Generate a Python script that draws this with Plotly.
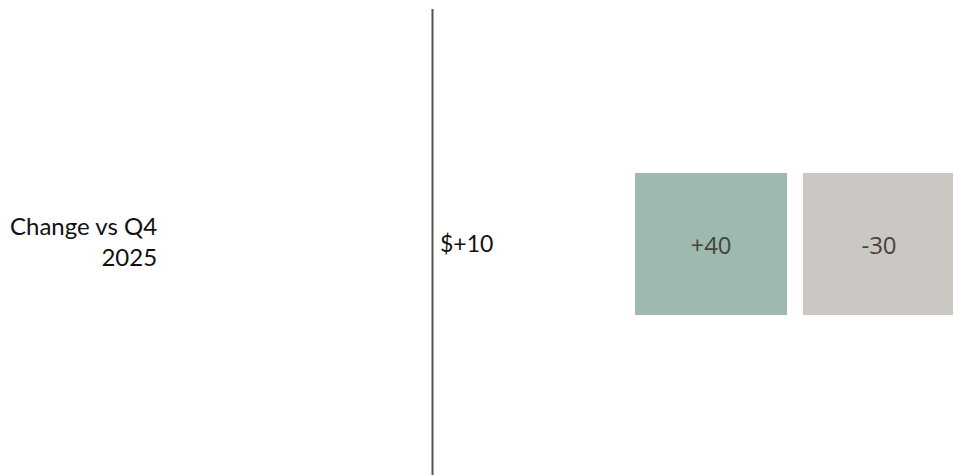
import plotly.graph_objects as go

# ---- data ----
row_labels = ["Change vs Q4<br>2025"]
row_totals = ["$+10"]
segment_names = ["Increase", "Decrease"]
segment_values = [40, -30]
segment_labels = ["+40", "-30"]
segment_colors = ["#9eb9ad", "#cbc8c3"]

W, H = 953, 475
BOX_W = 152          # px width of a box
GAP = 16             # px gap between boxes
BOX_LEFT = 635       # px
BOX_TOP, BOX_BOTTOM = 173, 315
CENTER_Y = 243

gap_u = GAP / BOX_W
xs = [i * (1 + gap_u) + 0.5 for i in range(len(segment_values))]

fig = go.Figure()
for i, (name, val, lab, col) in enumerate(zip(segment_names, segment_values, segment_labels, segment_colors)):
    fig.add_trace(go.Bar(
        x=[xs[i]], y=[1], width=[1], base=[0],
        name=name, marker=dict(color=col, line=dict(width=0)),
        text=[lab], textposition="inside", insidetextanchor="middle",
        textfont=dict(family="Open Sans", size=24, color="#444444"),
        hoverinfo="skip", showlegend=False,
        customdata=[val],
    ))

fig.update_layout(
    width=W, height=H,
    margin=dict(l=0, r=0, t=0, b=0),
    paper_bgcolor="white", plot_bgcolor="white",
    xaxis=dict(domain=[BOX_LEFT / W, 1], range=[0, (W - BOX_LEFT) / BOX_W],
               visible=False, fixedrange=True),
    yaxis=dict(domain=[(H - BOX_BOTTOM) / H, (H - BOX_TOP) / H], range=[0, 1],
               visible=False, fixedrange=True),
    bargap=0,
)

fig.add_shape(type="line", xref="paper", yref="paper",
              x0=432.5 / W, x1=432.5 / W, y0=0, y1=1 - 9 / H,
              line=dict(color="#555555", width=2))

fig.add_annotation(xref="paper", yref="paper", x=159 / W, y=1 - (CENTER_Y - 2) / H,
                   xanchor="right", yanchor="middle", align="right",
                   text=row_labels[0], showarrow=False,
                   font=dict(family="Lato", size=24, color="#111111"))
fig.add_annotation(xref="paper", yref="paper", x=438 / W, y=1 - CENTER_Y / H,
                   xanchor="left", yanchor="middle", align="left",
                   text=row_totals[0], showarrow=False,
                   font=dict(family="Lato", size=23, color="#111111"))

fig.write_html("out.html", config={"displayModeBar": False},
               post_script="document.body.style.margin='0';document.body.style.overflow='hidden';")
